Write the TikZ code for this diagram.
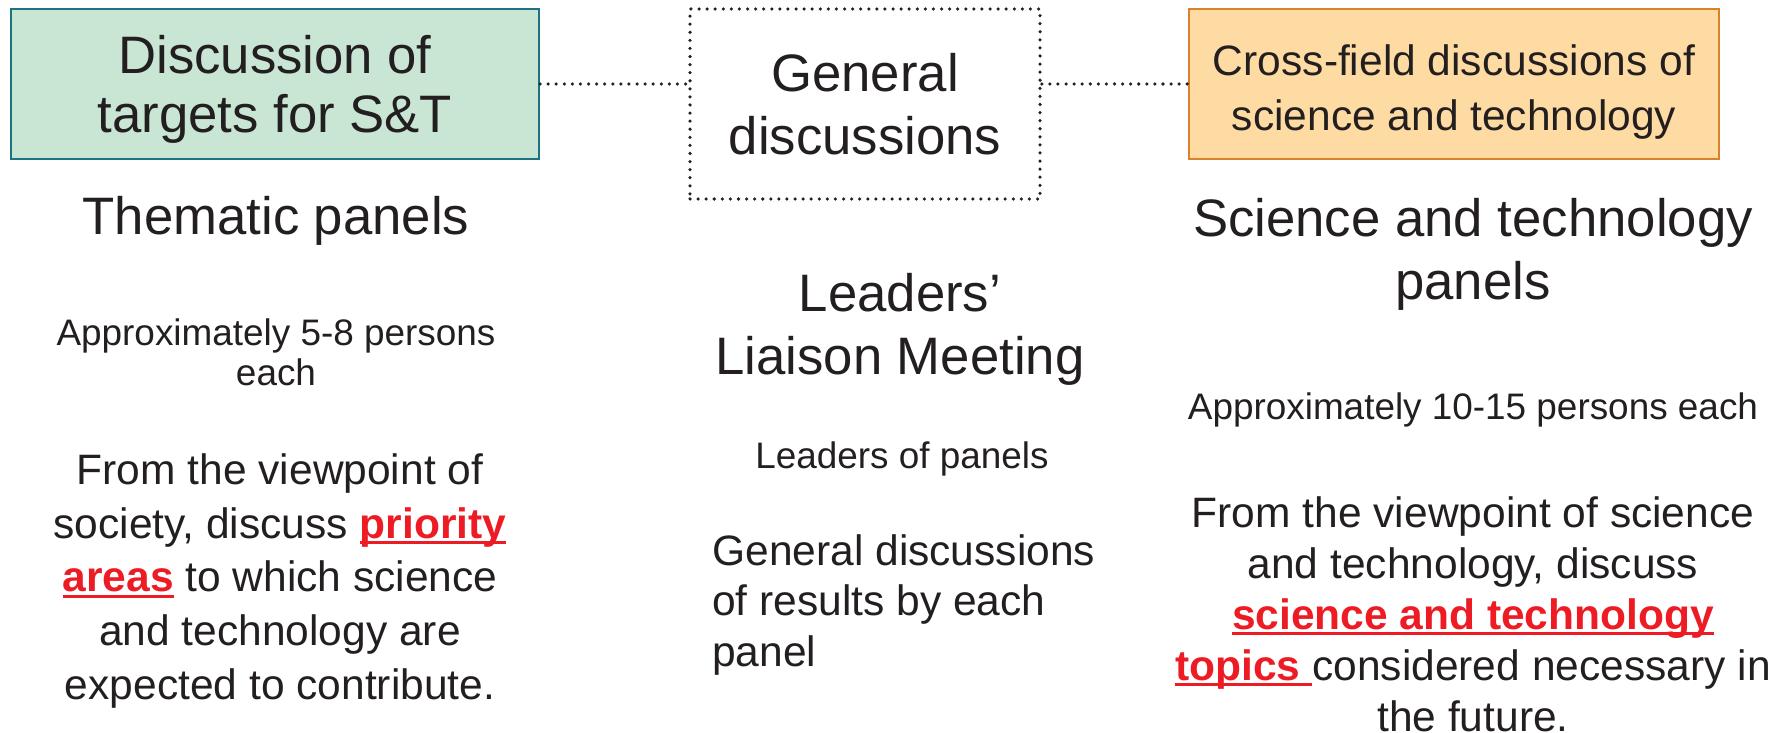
\documentclass[tikz,border=0pt]{standalone}
\usepackage{fontspec}
\setmainfont{Liberation Sans}
\usepackage{tikz}

\definecolor{boxgreen}{HTML}{C9E6D5}
\definecolor{linegreen}{HTML}{1B7480}
\definecolor{boxorange}{HTML}{FDDBA2}
\definecolor{lineorange}{HTML}{D9822B}
\definecolor{hlred}{HTML}{ED1C24}
\definecolor{ink}{HTML}{231F20}

% bold red words with a rule just under the baseline
\newcommand{\hl}[1]{\textcolor{hlred}{\bfseries\setbox0\hbox{#1}\rlap{\rule[-3.2pt]{\wd0}{1.4pt}}\box0}}

\begin{document}
\begin{tikzpicture}[x=0.02cm,y=-0.02cm]
				\tikzstyle{every node}=[inner sep=0pt,text=ink,align=center]
				\tikzstyle{big}=[font=\fontsize{30}{35.8}\selectfont]
				\tikzstyle{mid}=[font=\fontsize{24.2}{29}\selectfont]
				\tikzstyle{small}=[font=\fontsize{21}{22.8}\selectfont]
				\tikzstyle{panelbox}=[draw,line width=1.2pt,minimum height=150*0.02cm]
				\tikzstyle{dotline}=[line width=2pt,line cap=round,dash pattern=on 0pt off 4.6pt,ink]
				\useasboundingbox (0,0) rectangle (1786,733);
				% top row of boxes
				\node[panelbox,fill=boxgreen,draw=linegreen,minimum width=528*0.02cm] (thematic) at (275,84) {};
				\node[big,font=\fontsize{30}{33.5}\selectfont] (thematicLabel) at (275,89) {Discussion of\\targets for S\&T};
				\node[dotline,draw,minimum width=350*0.02cm,minimum height=190*0.02cm,big] (general) at (865,104) {General\\discussions};
				\node[panelbox,fill=boxorange,draw=lineorange,minimum width=530*0.02cm] (crossfield) at (1454,84) {};
				\node[font=\fontsize{24.2}{31}\selectfont] (crossfieldLabel) at (1454,92) {Cross-field discussions of\\science and technology};
				\draw[dotline] (thematic.east) -- (thematic.east -| general.west);
				\draw[dotline] (general.east |- crossfield.west) -- (crossfield.west);
				% thematic panels
				\node[big] (thematicTitle) at (276,221) {Thematic panels};
				\node[small] (thematicSize) at (276,352) {Approximately 5-8 persons\\each};
				\node[mid,font=\fontsize{24.2}{30.6}\selectfont] (thematicText) at (280,581) {From the viewpoint of\\society, discuss \hl{priority}\\\hl{areas} to which science\\and technology are\\expected to contribute.};
				% leaders' liaison meeting
				\node[big] (liaisonTitle) at (900,329) {Leaders’\\Liaison Meeting};
				\node[small] (liaisonSize) at (902,459) {Leaders of panels};
				\node[mid,align=left,anchor=west] (liaisonText) at (712,605) {General discussions\\of results by each\\panel};
				% science and technology panels
				\node[big] (stTitle) at (1473,254) {Science and technology\\panels};
				\node[small] (stSize) at (1473,410) {Approximately 10-15 persons each};
				\node[mid] (stText) at (1473,614) {From the viewpoint of science\\and technology, discuss\\\hl{science and technology}\\\hl{topics\ }considered necessary in\\the future.};
\end{tikzpicture}
\end{document}
